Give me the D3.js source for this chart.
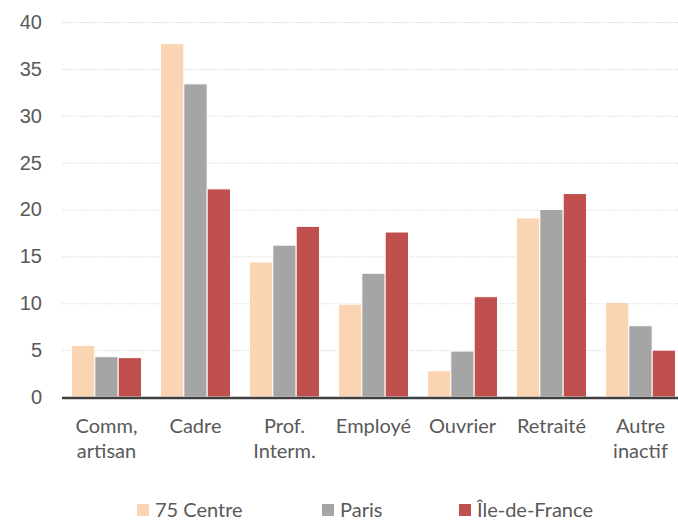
<!DOCTYPE html>
<html>
<head>
<meta charset="utf-8">
<script src="https://cdn.jsdelivr.net/npm/d3@7"></script>
<style>
    body { margin: 0; background: #fff; }
    svg { display: block; font-family: Lato, "Open Sans", sans-serif; }
</style>
</head>
<body>
<div id="chart"></div>
<script>
// categories (two-line labels split on "|")
const categories = ["Comm,|artisan", "Cadre", "Prof.|Interm.", "Employé", "Ouvrier", "Retraité", "Autre|inactif"];
const series = ["75 Centre", "Paris", "Île-de-France"];
const centre75 = [5.5, 37.7, 14.4, 9.9, 2.8, 19.1, 10.1];
const paris = [4.3, 33.4, 16.2, 13.2, 4.9, 20.0, 7.6];
const idf = [4.2, 22.2, 18.2, 17.6, 10.7, 21.7, 5.0];
const yTicks = [0, 5, 10, 15, 20, 25, 30, 35, 40];
const colors = ["#FBD4B4", "#A5A5A5", "#C0504D"];

const svg_w = 678, svg_h = 523;
const margin = { top: 22, right: -7, bottom: 126, left: 62 };
const width = svg_w - margin.left - margin.right,
    height = svg_h - margin.top - margin.bottom;

const svg = d3.select("#chart")
    .append("svg")
    .attr("width", svg_w)
    .attr("height", svg_h)
    .attr("viewBox", [0, 0, svg_w, svg_h]);

const g = svg.append("g")
    .attr("transform", "translate(" + margin.left + "," + margin.top + ")");

const data = categories.map((c, i) => ({
    cat: c,
    values: [centre75[i], paris[i], idf[i]]
}));

var x = d3.scaleBand()
    .domain(categories)
    .range([0, width])
    .paddingInner(0.213)
    .paddingOuter(0.1065);

var x1 = d3.scaleBand()
    .domain(d3.range(series.length))
    .range([0, x.bandwidth()]);

var y = d3.scaleLinear()
    .domain([0, 40])
    .range([height, 0]);

// dotted gridlines + y labels
var yAxis = d3.axisLeft(y).tickValues(yTicks).tickSize(-width).tickPadding(20);
const yg = g.append("g").attr("class", "y_axis").call(yAxis);
yg.select(".domain").remove();
yg.selectAll(".tick line")
    .attr("stroke", "#d9d9d9")
    .attr("stroke-dasharray", "1.5,1.5")
    .attr("stroke-width", 1);
yg.selectAll(".tick text")
    .attr("fill", "#595959")
    .style("font-size", "20px");

// bars
g.selectAll(".group")
    .data(data)
    .enter()
    .append("g")
    .attr("class", "group")
    .attr("transform", d => "translate(" + x(d.cat) + ",0)")
    .selectAll("rect")
    .data(d => d.values)
    .enter()
    .append("rect")
    .attr("x", (d, i) => x1(i))
    .attr("y", d => y(d))
    .attr("width", x1.bandwidth())
    .attr("height", d => height - y(d))
    .attr("fill", (d, i) => colors[i])
    .attr("stroke", "#fff")
    .attr("stroke-width", 1);

// x axis line
g.append("line")
    .attr("x1", 0)
    .attr("x2", width)
    .attr("y1", y(0) + 1)
    .attr("y2", y(0) + 1)
    .attr("stroke", "#404040")
    .attr("stroke-width", 2.5);

// category labels
const labels = g.append("g").attr("class", "x_labels");
categories.forEach(c => {
    const t = labels.append("text")
        .attr("x", x(c) + x.bandwidth() / 2)
        .attr("y", height + 36)
        .attr("text-anchor", "middle")
        .attr("fill", "#595959")
        .style("font-size", "20px");
    c.split("|").forEach((line, j) => {
        t.append("tspan")
            .attr("x", x(c) + x.bandwidth() / 2)
            .attr("dy", j === 0 ? 0 : 25)
            .text(line);
    });
});

// legend
const legendX = [137, 322, 459];
const legend = svg.append("g").attr("class", "legend");
series.forEach((s, i) => {
    legend.append("rect")
        .attr("x", legendX[i])
        .attr("y", 504)
        .attr("width", 12)
        .attr("height", 12)
        .attr("fill", colors[i]);
    legend.append("text")
        .attr("x", legendX[i] + 18)
        .attr("y", 517)
        .attr("fill", "#595959")
        .style("font-size", "20px")
        .text(s);
});
</script>
</body>
</html>
